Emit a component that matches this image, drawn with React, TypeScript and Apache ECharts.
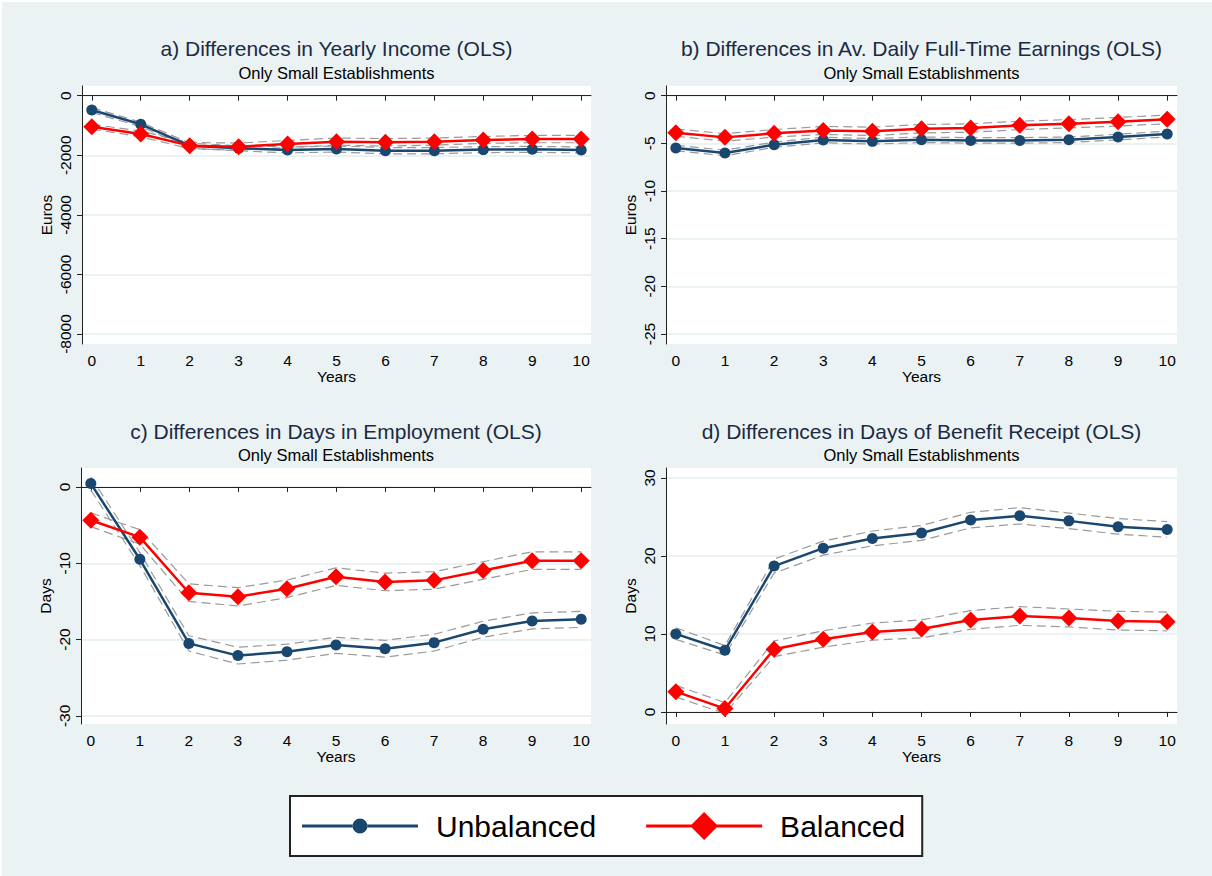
import React, { useEffect, useRef } from 'react';
import * as echarts from 'echarts';

const years = [0, 1, 2, 3, 4, 5, 6, 7, 8, 9, 10];

// a) Yearly income (Euros)
const incomeUnbal = [-480, -960, -1676, -1765, -1821, -1788, -1844, -1844, -1810, -1800, -1821];
const incomeUnbalHi = [-400, -890, -1590, -1680, -1720, -1690, -1740, -1740, -1710, -1700, -1720];
const incomeUnbalLo = [-560, -1040, -1760, -1850, -1920, -1890, -1950, -1950, -1910, -1900, -1920];
const incomeBal = [-1039, -1285, -1676, -1710, -1620, -1542, -1564, -1542, -1486, -1453, -1453];
const incomeBalHi = [-960, -1190, -1570, -1590, -1500, -1420, -1440, -1420, -1370, -1330, -1330];
const incomeBalLo = [-1120, -1380, -1780, -1830, -1740, -1660, -1690, -1660, -1600, -1580, -1580];

// b) Av. daily full-time earnings (Euros)
const earnUnbal = [-5.49, -6.01, -5.14, -4.65, -4.79, -4.62, -4.69, -4.69, -4.62, -4.34, -4.02];
const earnUnbalHi = [-5.2, -5.72, -4.86, -4.36, -4.5, -4.33, -4.4, -4.4, -4.33, -4.04, -3.72];
const earnUnbalLo = [-5.78, -6.3, -5.42, -4.94, -5.08, -4.91, -4.98, -4.98, -4.91, -4.64, -4.32];
const earnBal = [-3.88, -4.37, -3.95, -3.64, -3.74, -3.46, -3.39, -3.11, -2.94, -2.73, -2.48];
const earnBalHi = [-3.5, -3.98, -3.55, -3.22, -3.3, -3.02, -2.95, -2.67, -2.5, -2.28, -2.02];
const earnBalLo = [-4.26, -4.76, -4.35, -4.06, -4.18, -3.9, -3.83, -3.55, -3.38, -3.18, -2.94];

// c) Days in employment
const empUnbal = [0.44, -9.48, -20.5, -22.1, -21.6, -20.7, -21.2, -20.4, -18.65, -17.56, -17.34];
const empUnbalHi = [1.3, -8.6, -19.5, -21.0, -20.6, -19.7, -20.1, -19.3, -17.6, -16.5, -16.3];
const empUnbalLo = [-0.4, -10.3, -21.5, -23.2, -22.7, -21.8, -22.3, -21.5, -19.7, -18.6, -18.4];
const empBal = [-4.36, -6.58, -13.86, -14.38, -13.33, -11.76, -12.46, -12.24, -10.94, -9.67, -9.67];
const empBalHi = [-3.4, -5.6, -12.7, -13.2, -12.2, -10.6, -11.3, -11.1, -9.8, -8.5, -8.5];
const empBalLo = [-5.2, -7.5, -15.0, -15.6, -14.5, -12.9, -13.6, -13.4, -12.1, -10.8, -10.8];

// d) Days of benefit receipt
const benUnbal = [10.0, 7.91, 18.7, 21.0, 22.25, 22.95, 24.6, 25.15, 24.5, 23.76, 23.4];
const benUnbalHi = [10.8, 8.5, 19.6, 21.9, 23.2, 23.9, 25.6, 26.2, 25.5, 24.8, 24.4];
const benUnbalLo = [9.3, 7.3, 17.8, 20.1, 21.3, 22.0, 23.6, 24.1, 23.5, 22.8, 22.4];
const benBal = [2.6, 0.43, 8.04, 9.32, 10.26, 10.64, 11.8, 12.3, 12.04, 11.66, 11.57];
const benBalHi = [3.4, 1.2, 9.1, 10.4, 11.4, 11.8, 13.0, 13.5, 13.2, 12.9, 12.8];
const benBalLo = [1.9, -0.2, 7.1, 8.3, 9.2, 9.5, 10.6, 11.1, 10.9, 10.5, 10.4];

const titles = [
  'a) Differences in Yearly Income (OLS)',
  'b) Differences in Av. Daily Full-Time Earnings (OLS)',
  'c) Differences in Days in Employment (OLS)',
  'd) Differences in Days of Benefit Receipt (OLS)',
];
const subtitle = 'Only Small Establishments';
const yNames = ['Euros', 'Euros', 'Days', 'Days'];
const yTicks = [
  [-8000, -6000, -4000, -2000, 0],
  [-25, -20, -15, -10, -5, 0],
  [-30, -20, -10, 0],
  [0, 10, 20, 30],
];
const yRanges = [
  [-8336, 326],
  [-26.05, 1.02],
  [-31.06, 2.48],
  [-1.55, 31.28],
];
const xName = 'Years';
const legendNames = ['Unbalanced', 'Balanced'];

const panelData = [
  [incomeUnbal, incomeUnbalHi, incomeUnbalLo, incomeBal, incomeBalHi, incomeBalLo],
  [earnUnbal, earnUnbalHi, earnUnbalLo, earnBal, earnBalHi, earnBalLo],
  [empUnbal, empUnbalHi, empUnbalLo, empBal, empBalHi, empBalLo],
  [benUnbal, benUnbalHi, benUnbalLo, benBal, benBalHi, benBalLo],
];

const FONT = '"Liberation Sans", Arial, sans-serif';
const BLUE = '#1A476F';
const RED = '#FF0000';
const BG = '#EAF2F3';

const grids = [
  { left: 82, top: 86, width: 509, height: 258 },
  { left: 666, top: 86, width: 511, height: 258 },
  { left: 81, top: 468, width: 510, height: 256 },
  { left: 666, top: 468, width: 511, height: 256 },
];
const titleTops = [38, 38, 421, 421];
const titleGaps = [5, 5, 4, 4];

const pairs = (arr: number[]) => years.map((y, i) => [y, arr[i]]);

function buildOption() {
  const series: any[] = [];
  panelData.forEach((d, p) => {
    const [u, uh, ul, b, bh, bl] = d;
    [uh, ul, bh, bl].forEach((ci, k) => {
      series.push({
        type: 'line',
        name: 'ci' + p + k,
        xAxisIndex: p,
        yAxisIndex: p,
        data: pairs(ci),
        symbol: 'none',
        silent: true,
        z: 1,
        lineStyle: { color: '#9a9a9a', width: 1.2, type: [9, 5] },
      });
    });
    series.push({
      type: 'line',
      name: legendNames[0],
      xAxisIndex: p,
      yAxisIndex: p,
      data: pairs(u),
      symbol: 'circle',
      symbolSize: 11,
      z: 3,
      itemStyle: { color: BLUE },
      lineStyle: { color: BLUE, width: 2.5 },
    });
    series.push({
      type: 'line',
      name: legendNames[1],
      xAxisIndex: p,
      yAxisIndex: p,
      data: pairs(b),
      symbol: 'diamond',
      symbolSize: 17,
      z: 4,
      itemStyle: { color: RED },
      lineStyle: { color: RED, width: 2.5 },
    });
  });

  return {
    animation: false,
    backgroundColor: '#ffffff',
    textStyle: { fontFamily: FONT },
    graphic: [
      {
        type: 'rect',
        z: -100,
        silent: true,
        shape: { x: 2, y: 2, width: 1210, height: 874 },
        style: { fill: BG },
      },
    ],
    title: titles.map((t, i) => ({
      text: t,
      subtext: subtitle,
      left: grids[i].left + grids[i].width / 2,
      top: titleTops[i],
      textAlign: 'center',
      padding: 0,
      itemGap: titleGaps[i],
      textStyle: { fontFamily: FONT, fontSize: 21, fontWeight: 'normal', color: '#1B2A44' },
      subtextStyle: { fontFamily: FONT, fontSize: 16.5, color: '#000' },
    })),
    grid: grids.map((g) => ({
      ...g,
      show: true,
      backgroundColor: '#ffffff',
      borderWidth: 0,
      containLabel: false,
    })),
    xAxis: grids.map((_, i) => ({
      type: 'value',
      gridIndex: i,
      min: -0.2,
      max: 10.2,
      name: xName,
      nameLocation: 'middle',
      nameGap: 23,
      nameTextStyle: { fontFamily: FONT, fontSize: 15.5, color: '#000' },
      axisLine: { show: true, lineStyle: { color: '#222', width: 1 } },
      axisTick: { show: true, length: 5, lineStyle: { color: '#222' }, customValues: years },
      axisLabel: { fontFamily: FONT, fontSize: 15.5, color: '#000', margin: 8, customValues: years },
      splitLine: { show: false },
    })),
    yAxis: grids.map((_, i) => ({
      type: 'value',
      gridIndex: i,
      min: yRanges[i][0],
      max: yRanges[i][1],
      name: yNames[i],
      nameLocation: 'middle',
      nameGap: 28,
      nameTextStyle: { fontFamily: FONT, fontSize: 15.5, color: '#000' },
      axisLine: { show: true, onZero: false, lineStyle: { color: '#222', width: 1 } },
      axisTick: { show: true, length: 5, lineStyle: { color: '#222' }, customValues: yTicks[i] },
      axisLabel: {
        fontFamily: FONT,
        fontSize: 15.5,
        color: '#000',
        rotate: 90,
        margin: 9,
        customValues: yTicks[i],
        formatter: (v: number) => String(v),
      },
      splitLine: { show: true, lineStyle: { color: '#E4EEF0', width: 1.5 } },
    })),
    legend: {
      left: 290,
      top: 796,
      orient: 'horizontal',
      padding: [15, 17, 15, 12],
      backgroundColor: '#ffffff',
      borderColor: '#222',
      borderWidth: 2,
      borderRadius: 0,
      itemWidth: 116,
      itemHeight: 28,
      itemGap: 50,
      selectedMode: false,
      textStyle: { fontFamily: FONT, fontSize: 30, color: '#000', padding: [0, 0, 0, 13] },
      data: [
        {
          name: legendNames[0],
          icon: 'path://M0,0h0.01v0.01h-0.01ZM0,12.5h50.8v3h-50.8ZM65.2,12.5h50.8v3h-50.8ZM50.5,14a7.5,7.5 0 1,0 15,0a7.5,7.5 0 1,0 -15,0ZM115.99,27.99h0.01v0.01h-0.01Z',
          itemStyle: { color: BLUE },
        },
        {
          name: legendNames[1],
          icon: 'path://M0,12.5h45.6v3h-45.6ZM70.4,12.5h45.6v3h-45.6ZM58,0L72,14L58,28L44,14Z',
          itemStyle: { color: RED },
        },
      ],
    },
    series,
  };
}

export default function App() {
  const ref = useRef<HTMLDivElement>(null);
  useEffect(() => {
    document.body.style.margin = '0';
    const chart = echarts.init(ref.current as HTMLDivElement, null, { renderer: 'svg' });
    chart.setOption(buildOption() as any);
    return () => chart.dispose();
  }, []);
  return <div ref={ref} style={{ width: 1212, height: 876 }} />;
}
